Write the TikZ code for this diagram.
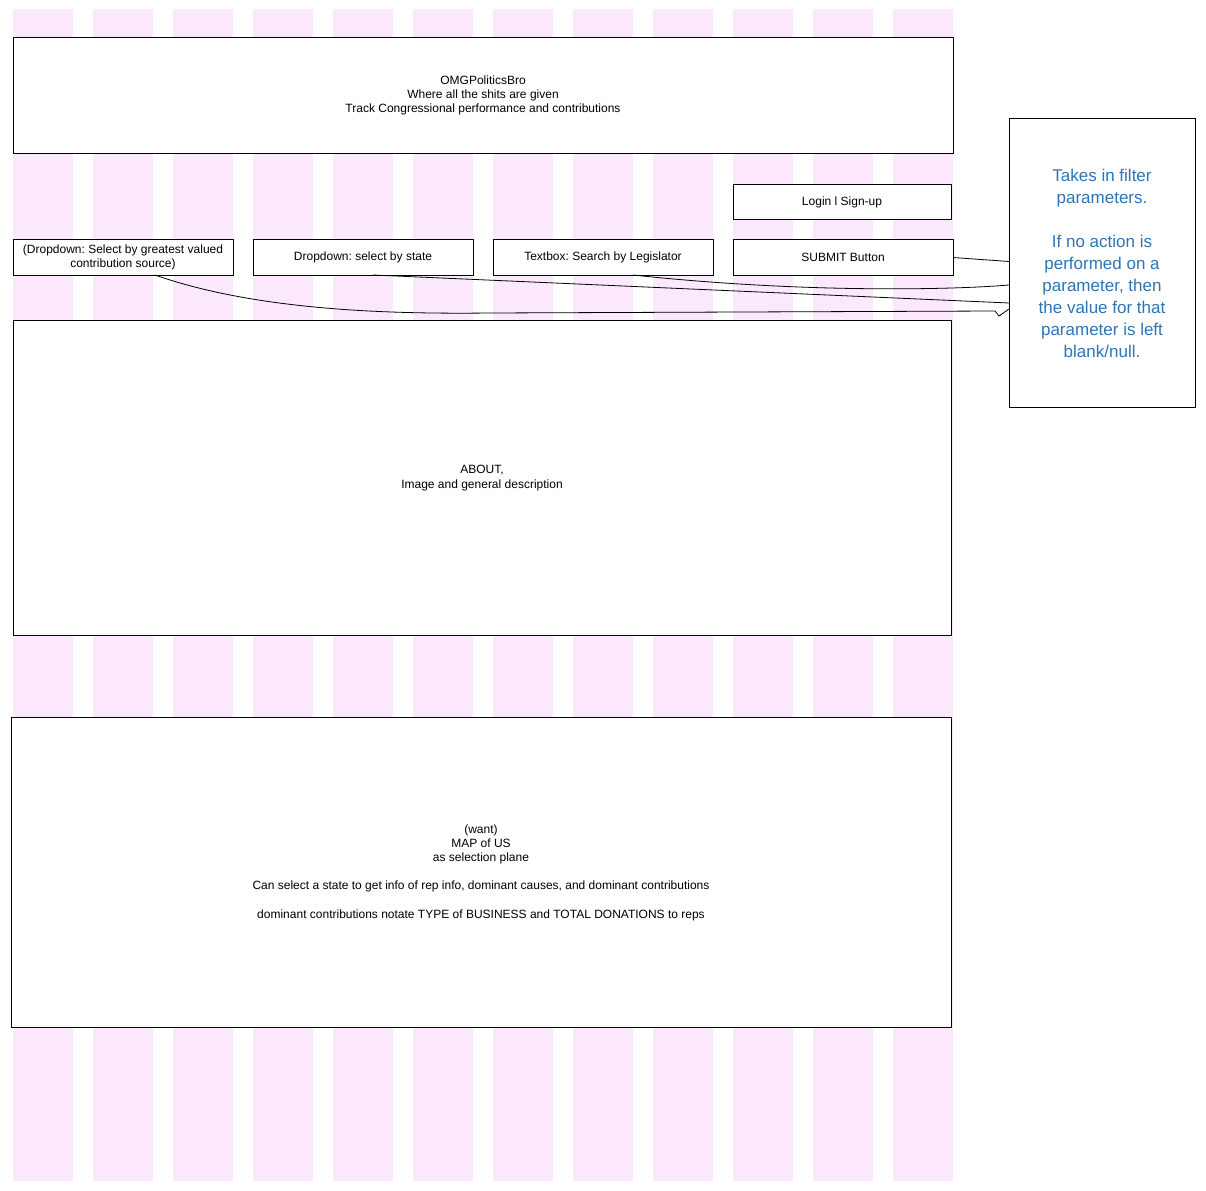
\documentclass[tikz,border=0pt]{standalone}
\usepackage{fontspec}
\setmainfont{Liberation Sans}
\frenchspacing
\usetikzlibrary{positioning}
\definecolor{gridpink}{RGB}{252,232,252}
\definecolor{noteblue}{RGB}{46,117,182}
\tikzstyle{block} = [rectangle, draw=black, line width=1pt, align=center, inner sep=0pt, outer sep=0pt, fill=white, font=\fontsize{12}{14.3}\selectfont]
\tikzstyle{field} = [block, minimum width=220pt, minimum height=35pt]
\tikzstyle{link} = [line width=0.8pt]

\begin{document}
\begin{tikzpicture}[x=1pt, y=-1pt, node distance=20pt]
    \useasboundingbox (0,0) rectangle (1206,1190);
    % layout columns
    \foreach \i in {0,...,11}
        \fill[gridpink] (13+80*\i,9) rectangle ++(60,1172);

    \node (title) [block, minimum width=940pt, minimum height=116pt] at (483,95.5) {OMGPoliticsBro\\Where all the shits are given\\Track Congressional performance and contributions};
    \node (greatest) [field] at (123,257.5) {(Dropdown: Select by greatest valued\\contribution source)};
    \node (state) [field, right=of greatest] {Dropdown: select by state};
    \node (legislator) [field, right=of state] {Textbox: Search by Legislator};
    \node (submit) [field, right=of legislator] {SUBMIT Button};
    \node (login) [field, minimum width=218pt, above=of submit, xshift=-1pt] {Login l Sign-up};
    \node (about) [block, minimum width=938pt, minimum height=315pt] at (482,478) {ABOUT,\\Image and general description};
    \node (map) [block, minimum width=940pt, minimum height=310pt] at (481,872.5) {(want)\\MAP of US\\as selection plane\\[14pt]Can select a state to get info of rep info, dominant causes, and dominant contributions\\[14pt]dominant contributions notate TYPE of BUSINESS and TOTAL DONATIONS to reps};
    \node (note) [block, minimum width=186pt, minimum height=289pt, text=noteblue, font=\fontsize{17}{22}\selectfont] at (1102,263) {Takes in filter\\parameters.\\[22pt]If no action is\\performed on a\\parameter, then\\the value for that\\parameter is left\\blank/null.};

    \draw [link] (submit.east) -- ([yshift=1.5pt]note.west);
    \draw [link] ([xshift=30pt]legislator.south) .. controls (800,293) and (950,290) .. ([yshift=-22pt]note.west);
    \draw [link] ([xshift=10pt]state.south) -- ([yshift=-40pt]note.west);
    \coordinate (dip) at (490,313);
    \draw [link] ([xshift=32pt]greatest.south) .. controls (260,312) and (400,314) .. (dip) -- (995,311) -- (999,316) -- ([yshift=-46pt]note.west);
\end{tikzpicture}
\end{document}
